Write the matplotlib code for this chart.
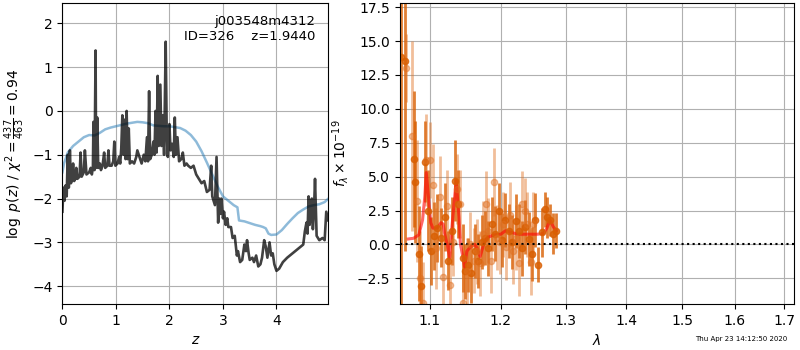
import numpy as np
import matplotlib
matplotlib.use('Agg')
import matplotlib.pyplot as plt
from matplotlib.ticker import FixedLocator, NullLocator, FormatStrFormatter

# log p(z) curve (black)
z_pz = [0.00, 0.02, 0.04, 0.06, 0.08, 0.10, 0.12, 0.14, 0.16, 0.18, 0.20, 0.22, 0.24,
        0.26, 0.28, 0.32, 0.34, 0.36, 0.40, 0.42, 0.45, 0.50, 0.53, 0.55, 0.57, 0.58,
        0.60, 0.62, 0.63, 0.65, 0.67, 0.70, 0.72, 0.75, 0.78, 0.80, 0.84, 0.86, 0.88,
        0.92, 0.95, 0.97, 0.99, 1.03, 1.06, 1.08, 1.10, 1.12, 1.14, 1.16, 1.18, 1.20,
        1.22, 1.24, 1.26, 1.30, 1.34, 1.38, 1.40, 1.44, 1.48, 1.52, 1.55, 1.58, 1.60,
        1.62, 1.64, 1.67, 1.70, 1.72, 1.74, 1.76, 1.78, 1.80, 1.83, 1.85, 1.88, 1.90,
        1.93, 1.95, 1.97, 2.00, 2.02, 2.05, 2.08, 2.10, 2.12, 2.15, 2.18, 2.22, 2.25,
        2.28, 2.32, 2.35, 2.40, 2.45, 2.50, 2.55, 2.60, 2.65, 2.70, 2.75, 2.78, 2.80,
        2.85, 2.88, 2.91, 2.93, 2.95, 2.97, 3.00, 3.02, 3.05, 3.08, 3.10, 3.15, 3.18,
        3.22, 3.26, 3.28, 3.32, 3.36, 3.40, 3.43, 3.45, 3.48, 3.50, 3.55, 3.58, 3.62,
        3.66, 3.70, 3.73, 3.77, 3.80, 3.83, 3.87, 3.90, 3.93, 3.96, 4.00, 4.05, 4.12,
        4.20, 4.30, 4.40, 4.50, 4.53, 4.56, 4.58, 4.60, 4.62, 4.64, 4.66, 4.68, 4.70,
        4.72, 4.75, 4.80, 4.86, 4.90, 4.93, 4.97]
logp = [-2.30, -1.75, -2.05, -1.70, -1.95, -1.00, -1.75, -0.90, -1.65, -1.55, -1.20, -1.60, -1.55,
        -1.30, -1.55, -1.50, -0.95, -1.50, -1.40, -0.90, -1.45, -1.40, -1.30, -1.45, -1.30, -0.25,
        -1.35, 1.38, -1.30, -0.15, -1.30, -1.20, -1.35, -1.25, -0.95, -1.30, -1.25, -0.90, -1.25,
        -1.25, -1.15, -0.70, -1.25, -1.20, -1.05, -1.20, -0.85, -0.10, -1.00, -0.20, -1.10, 0.00,
        -1.10, -0.40, -1.20, -1.15, -1.20, -1.05, -0.90, -1.05, -1.20, -1.00, -1.15, -0.60, -1.15,
        0.45, -1.10, -1.00, -0.70, -1.00, 0.00, -0.95, 0.80, -0.80, 0.60, -0.80, -0.10, -1.00,
        1.58, -0.60, -1.05, -0.30, -0.90, -0.75, -1.05, -0.15, -1.00, -0.60, -1.15, -1.10, -0.95,
        -1.25, -1.20, -1.25, -1.30, -1.25, -1.45, -1.55, -1.65, -1.60, -1.85, -1.80, -1.25, -1.95,
        -2.15, -1.05, -2.55, -2.00, -2.35, -2.00, -2.45, -2.30, -2.60, -2.45, -2.65, -2.65, -2.90,
        -2.85, -3.30, -3.20, -3.45, -3.40, -3.05, -3.20, -2.95, -3.25, -3.40, -3.35, -3.45, -3.30,
        -3.55, -3.50, -3.35, -2.95, -3.10, -3.35, -3.00, -3.30, -3.25, -3.50, -3.65, -3.60, -3.45,
        -3.35, -3.25, -3.15, -3.05, -2.75, -2.55, -2.80, -1.95, -2.60, -2.40, -2.00, -2.70, -2.30,
        -1.55, -2.85, -2.95, -2.90, -2.95, -2.30, -2.50]

# chi2 curve (blue)
z_chi = [0.00, 0.03, 0.10, 0.20, 0.30, 0.40, 0.50, 0.60, 0.70, 0.80, 0.90, 1.00, 1.10,
         1.20, 1.30, 1.40, 1.50, 1.60, 1.70, 1.80, 1.90, 2.00, 2.10, 2.20, 2.30, 2.40,
         2.50, 2.60, 2.70, 2.80, 2.90, 3.00, 3.10, 3.20, 3.27, 3.30, 3.40, 3.50, 3.60,
         3.70, 3.75, 3.80, 3.85, 3.90, 4.00, 4.10, 4.20, 4.30, 4.40, 4.50, 4.60, 4.70,
         4.80, 4.90, 4.97]
chi2 = [-1.40, -1.20, -0.95, -0.80, -0.70, -0.60, -0.55, -0.56, -0.50, -0.42, -0.38, -0.35, -0.32,
        -0.29, -0.27, -0.25, -0.26, -0.28, -0.33, -0.34, -0.35, -0.35, -0.37, -0.39, -0.45, -0.55,
        -0.70, -0.92, -1.18, -1.45, -1.72, -1.95, -2.05, -2.15, -2.20, -2.50, -2.52, -2.56, -2.60,
        -2.63, -2.65, -2.68, -2.80, -2.83, -2.82, -2.72, -2.58, -2.45, -2.33, -2.25, -2.18, -2.15,
        -2.13, -2.08, -2.00]

# spectrum, first orientation (darker)
wave1 = [1.0618, 1.0662, 1.0790, 1.0800, 1.0850, 1.0880, 1.0935, 1.0975, 1.1020, 1.1060,
         1.1100, 1.1150, 1.1200, 1.1250, 1.1300, 1.1350, 1.1390, 1.1450, 1.1490, 1.1530,
         1.1570, 1.1620, 1.1670, 1.1720, 1.1770, 1.1820, 1.1870, 1.1920, 1.1970, 1.2020,
         1.2070, 1.2120, 1.2170, 1.2220, 1.2270, 1.2320, 1.2370, 1.2420, 1.2470, 1.2520,
         1.2560, 1.2620, 1.2670, 1.2710, 1.2750, 1.2790, 1.2840]
flux1 = [13.8, 13.5, 6.3, 4.6, -0.7, -3.1, 6.1, 2.5, -0.5, 0.6,
         1.2, 0.5, 2.0, -1.2, 1.0, 4.7, 3.0, -1.0, -2.0, -1.5,
         -2.1, -0.5, -1.2, 0.2, 0.5, -0.3, 1.5, 0.8, 2.5, 0.3,
         1.8, 1.0, 0.2, 1.7, 1.0, -0.3, 1.3, 0.4, -0.7, 1.8,
         -1.5, 0.9, 2.6, 2.0, 1.8, 0.8, 1.0]
err1 = [20.0, 14.0, 5.0, 4.5, 3.5, 3.0, 3.0, 3.0, 2.5, 2.5,
        2.5, 2.2, 2.5, 2.2, 2.5, 3.0, 2.5, 2.5, 2.0, 2.0,
        2.2, 2.0, 2.0, 2.0, 2.0, 2.0, 2.0, 2.0, 2.0, 2.0,
        2.0, 2.0, 2.0, 2.0, 2.0, 2.0, 2.0, 2.0, 2.0, 2.0,
        1.3, 1.8, 1.3, 1.5, 1.2, 1.5, 1.3]

# spectrum, second orientation (lighter)
wave2 = [1.0680, 1.0760, 1.0820, 1.0870, 1.0900, 1.0950, 1.0995, 1.1040, 1.1085, 1.1130,
         1.1180, 1.1230, 1.1270, 1.1320, 1.1370, 1.1420, 1.1460, 1.1510, 1.1560, 1.1610,
         1.1660, 1.1700, 1.1740, 1.1780, 1.1820, 1.1860, 1.1900, 1.1940, 1.1990, 1.2040,
         1.2080, 1.2130, 1.2180, 1.2230, 1.2280, 1.2320, 1.2360, 1.2400, 1.2450, 1.2490]
flux2 = [13.0, 8.0, 3.2, -2.5, -4.3, 6.2, 6.2, 4.4, -0.3, 3.5,
         -2.4, 2.8, -3.0, 0.2, 4.1, 3.0, -4.3, -2.0, 0.0, -1.2,
         -0.5, -1.4, 0.8, 3.0, 1.0, -1.2, 4.6, 0.5, 0.2, 1.5,
         -0.2, 2.2, -0.5, 0.5, -1.4, 3.0, 2.5, 1.5, -1.3, 1.5]
err2 = [2.5, 7.0, 4.5, 3.5, 3.0, 3.4, 2.8, 3.0, 3.0, 3.0,
        3.0, 2.7, 2.5, 2.5, 2.6, 2.5, 2.5, 2.5, 2.4, 2.4,
        2.4, 2.4, 2.4, 2.4, 2.4, 2.4, 2.5, 2.4, 2.4, 2.4,
        2.4, 2.4, 2.4, 2.4, 2.4, 2.4, 2.4, 2.4, 2.4, 2.4]

# best-fit model (red)
wave_m = [1.071, 1.078, 1.085, 1.090, 1.093, 1.095, 1.098, 1.101, 1.104, 1.110, 1.115,
          1.118, 1.120, 1.124, 1.127, 1.130, 1.133, 1.136, 1.140, 1.142, 1.145, 1.148,
          1.151, 1.156, 1.162, 1.166, 1.170, 1.175, 1.180, 1.190, 1.200, 1.207, 1.215,
          1.225, 1.240, 1.255, 1.265, 1.270, 1.275, 1.280, 1.285]
flux_m = [0.4, 0.45, 0.7, 1.8, 3.5, 5.3, 3.5, 1.6, 1.2, 1.2, 1.6,
          1.5, 0.8, -0.1, -1.0, 1.2, 3.0, 4.7, 2.0, 0.0, -0.8, -1.7,
          -0.5, -0.2, 0.0, -0.3, -0.9, 0.0, 0.5, 0.7, 0.75, 1.0, 0.9,
          0.75, 0.75, 0.75, 0.8, 1.2, 1.8, 1.3, 1.0]

xticks_r = [1.1, 1.2, 1.3, 1.4, 1.5, 1.6, 1.7]

fig = plt.figure(figsize=(8, 3.5), dpi=100)

# panel 1: p(z)
ax1 = fig.add_axes([0.078, 0.131, 0.3325, 0.86])
ax1.plot(z_chi, chi2, color='tab:blue', alpha=0.5, lw=1.8)
ax1.plot(z_pz, logp, color='k', alpha=0.75, lw=1.9)
ax1.set_xlim(0, 4.97)
ax1.set_ylim(-4.41, 2.46)
ax1.grid(True)
ax1.set_xlabel('$z$')
ax1.set_ylabel(r'$\log\ p(z)$' + ' / ' + r'$\chi^2=\frac{437}{463}=0.94$')
ax1.text(0.95, 0.96, 'j003548m4312\nID=326    z=1.9440', ha='right', va='top',
         transform=ax1.transAxes, fontsize=9.5)

# panel 2: spectrum
ax2 = fig.add_axes([0.5, 0.131, 0.4925, 0.86])
ax2.errorbar(wave1, flux1, yerr=err1, color='#d95f02', alpha=0.8, marker='o',
             ms=4.5, linestyle='None', elinewidth=2)
ax2.errorbar(wave2, flux2, yerr=err2, color='#e07020', alpha=0.45, marker='o',
             ms=4.5, linestyle='None', elinewidth=2)
ax2.plot(wave_m, flux_m, color='r', alpha=0.6, lw=2.2)
ax2.axhline(0, color='k', linestyle=':', lw=1.5)
ax2.set_xscale('log')
ax2.xaxis.set_major_locator(FixedLocator(xticks_r))
ax2.xaxis.set_major_formatter(FormatStrFormatter('%.1f'))
ax2.xaxis.set_minor_locator(NullLocator())
ax2.set_xlim(1.0602, 1.721)
ax2.set_ylim(-4.41, 17.8)
ax2.grid(True)
ax2.set_xlabel(r'$\lambda$')
ax2.set_ylabel(r'$f_\lambda\times10^{-19}$')

fig.text(0.984, 0.03, 'Thu Apr 23 14:12:50 2020', ha='right', va='center', fontsize=5)

fig.savefig('out.png', dpi=100)
